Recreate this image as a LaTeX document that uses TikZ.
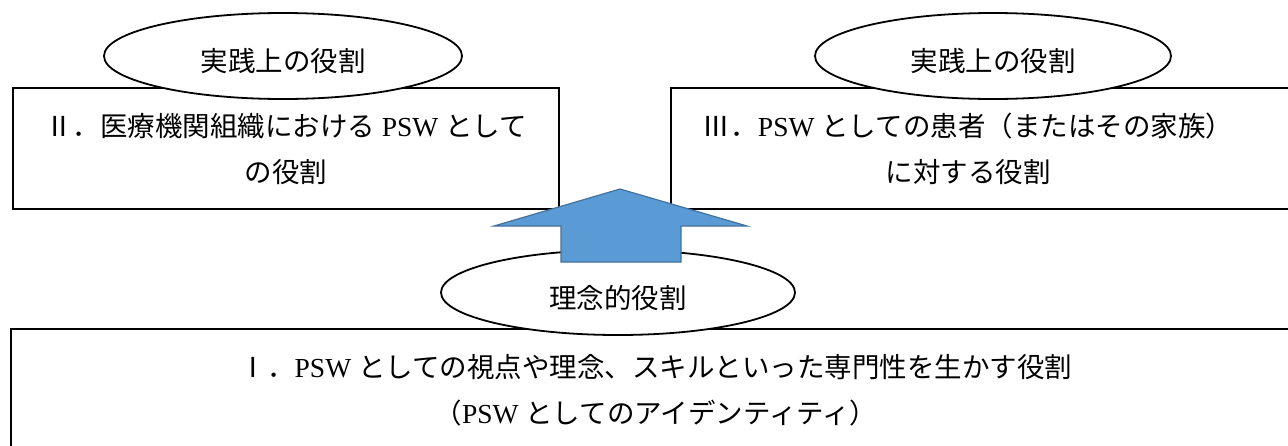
\documentclass[tikz,border=0pt]{standalone}
\usepackage{fontspec}
\setmainfont{Liberation Serif}
\newfontfamily\jp{Noto Sans CJK JP}
\usetikzlibrary{shapes.geometric}
\definecolor{arrowfill}{HTML}{5B9BD5}
\definecolor{arrowline}{HTML}{41719C}
\tikzset{
  rolebox/.style={draw=black, line width=2.4pt, fill=white, rectangle, inner sep=0pt},
  roleoval/.style={draw=black, line width=1.8pt, fill=white, ellipse, inner sep=0pt,
    text height=34pt, text depth=3pt,
    font=\jp\fontsize{27.5}{30}\selectfont},
  roletext/.style={align=center, inner sep=0pt, font=\fontsize{27.5}{46}\selectfont},
  bigarrow/.style={fill=arrowfill, draw=arrowline, line width=1.2pt, line join=miter}
}
\begin{document}
\begin{tikzpicture}[x=1pt,y=-1pt]
\useasboundingbox (0,0) rectangle (1288,445);
\clip (0,0) rectangle (1288,445);
% upper boxes
\node[rolebox, minimum width=546pt, minimum height=121pt] (boxII) at (286,148.5) {};
\node[rolebox, minimum width=640pt, minimum height=121pt] (boxIII) at (991,148.5) {};
\node[roletext] (txtII) at (286,149) {{\jp Ⅱ．医療機関組織における} PSW {\jp として}\\{\jp の役割}};
\node[roletext] (txtIII) at (968,149) {{\jp Ⅲ．}PSW {\jp としての患者（またはその家族）}\\{\jp に対する役割}};
% upper ovals
\node[roleoval, minimum width=358pt, minimum height=86pt] (ovalII) at (283,56) {実践上の役割};
\node[roleoval, minimum width=356pt, minimum height=86pt] (ovalIII) at (993,56) {実践上の役割};
% lower box
\node[rolebox, minimum width=1290pt, minimum height=140pt] (boxI) at (656,399) {};
\node[roletext] (txtI) at (656,390) {{\jp Ⅰ．}PSW {\jp としての視点や理念、スキルといった専門性を生かす役割}\\{\jp （}PSW {\jp としてのアイデンティティ）}};
% lower oval
\node[roleoval, minimum width=354pt, minimum height=85pt] (ovalI) at (618,292.5) {理念的役割};
% block arrow
\coordinate (tip) at (620,189);
\draw[bigarrow] (tip) -- (747,226) -- (681,226) -- (681,262) -- (561,262) -- (561,226) -- (494,226) -- cycle;
\end{tikzpicture}
\end{document}
